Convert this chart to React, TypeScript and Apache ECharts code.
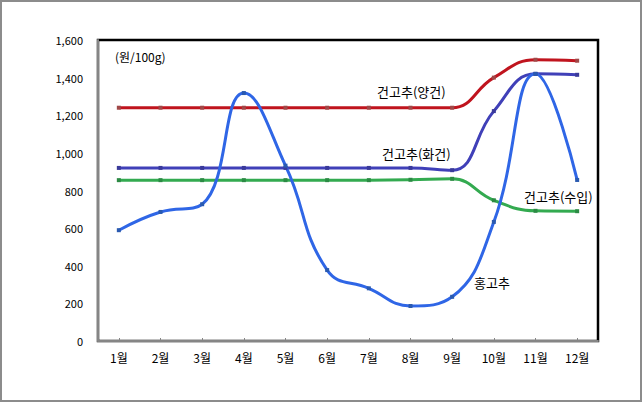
import React, { useEffect, useRef } from "react";
import * as echarts from "echarts";

const months = ["1월", "2월", "3월", "4월", "5월", "6월", "7월", "8월", "9월", "10월", "11월", "12월"];
const yangGeon = [1240, 1240, 1240, 1240, 1240, 1240, 1240, 1240, 1240, 1400, 1495, 1490];
const hwaGeon = [920, 920, 920, 920, 920, 920, 920, 920, 908, 1222, 1420, 1415];
const suip = [855, 855, 855, 855, 855, 855, 855, 857, 862, 748, 692, 690];
const hongGochu = [589, 686, 727, 1318, 932, 377, 280, 186, 235, 633, 1420, 856];

const FONT = "'Noto Sans CJK KR', 'DejaVu Sans', sans-serif";

export default function App() {
  const ref = useRef<HTMLDivElement>(null);
  useEffect(() => {
    if (!ref.current) return;
    const chart = echarts.init(ref.current, undefined, { renderer: "svg" });
    const mk = (name: string, data: number[], color: string, mColor: string) => ({
      name,
      type: "line",
      data,
      smooth: 0.45,
      symbol: "rect",
      symbolSize: 4,
      lineStyle: { color, width: 3 },
      itemStyle: { color: mColor },
      z: 3,
    });
    chart.setOption({
      animation: false,
      backgroundColor: "#ffffff",
      grid: {
        left: 98,
        top: 40,
        width: 500,
        height: 301,
        show: true,
        borderColor: "#000000",
        borderWidth: 2.5,
        backgroundColor: "transparent",
      },
      xAxis: {
        type: "category",
        data: months,
        boundaryGap: true,
        axisLine: { lineStyle: { color: "#858585", width: 2 } },
        axisTick: { show: true, inside: true, length: 3, alignWithLabel: true, lineStyle: { color: "#858585" } },
        axisLabel: { color: "#000", fontSize: 12, fontFamily: FONT, margin: 10 },
        splitLine: { show: false },
      },
      yAxis: {
        type: "value",
        min: 0,
        max: 1600,
        interval: 200,
        axisLine: { show: true, lineStyle: { color: "#858585", width: 2 } },
        axisTick: { show: false },
        axisLabel: {
          color: "#000",
          fontSize: 11,
          fontFamily: FONT,
          margin: 15,
          formatter: (v: number) => v.toLocaleString("en-US"),
        },
        splitLine: { show: false },
      },
      series: [
        mk("건고추(양건)", yangGeon, "#c0141e", "#a04848"),
        mk("건고추(화건)", hwaGeon, "#4040b8", "#3a3a9a"),
        mk("건고추(수입)", suip, "#33aa50", "#2c8a44"),
        mk("홍고추", hongGochu, "#2f66e6", "#2a5ab0"),
      ],
      graphic: [
        {
          type: "rect",
          shape: { x: 1, y: 1, width: 640, height: 400 },
          style: { fill: "none", stroke: "#8c8c8c", lineWidth: 2 },
          z: 10,
        },
        { type: "text", left: 115, top: 50, style: { text: "(원/100g)", font: `12px ${FONT}`, fill: "#000" }, z: 10 },
        { type: "text", left: 377, top: 85, style: { text: "건고추(양건)", font: `13px ${FONT}`, fill: "#000" }, z: 10 },
        { type: "text", left: 382, top: 147, style: { text: "건고추(화건)", font: `13px ${FONT}`, fill: "#000" }, z: 10 },
        { type: "text", left: 524, top: 190, style: { text: "건고추(수입)", font: `13px ${FONT}`, fill: "#000" }, z: 10 },
        { type: "text", left: 474, top: 276, style: { text: "홍고추", font: `13px ${FONT}`, fill: "#000" }, z: 10 },
      ],
    });
    return () => chart.dispose();
  }, []);
  return (
    <div
      ref={ref}
      style={{ position: "fixed", left: 0, top: 0, width: 643, height: 403, background: "#fff" }}
    />
  );
}
